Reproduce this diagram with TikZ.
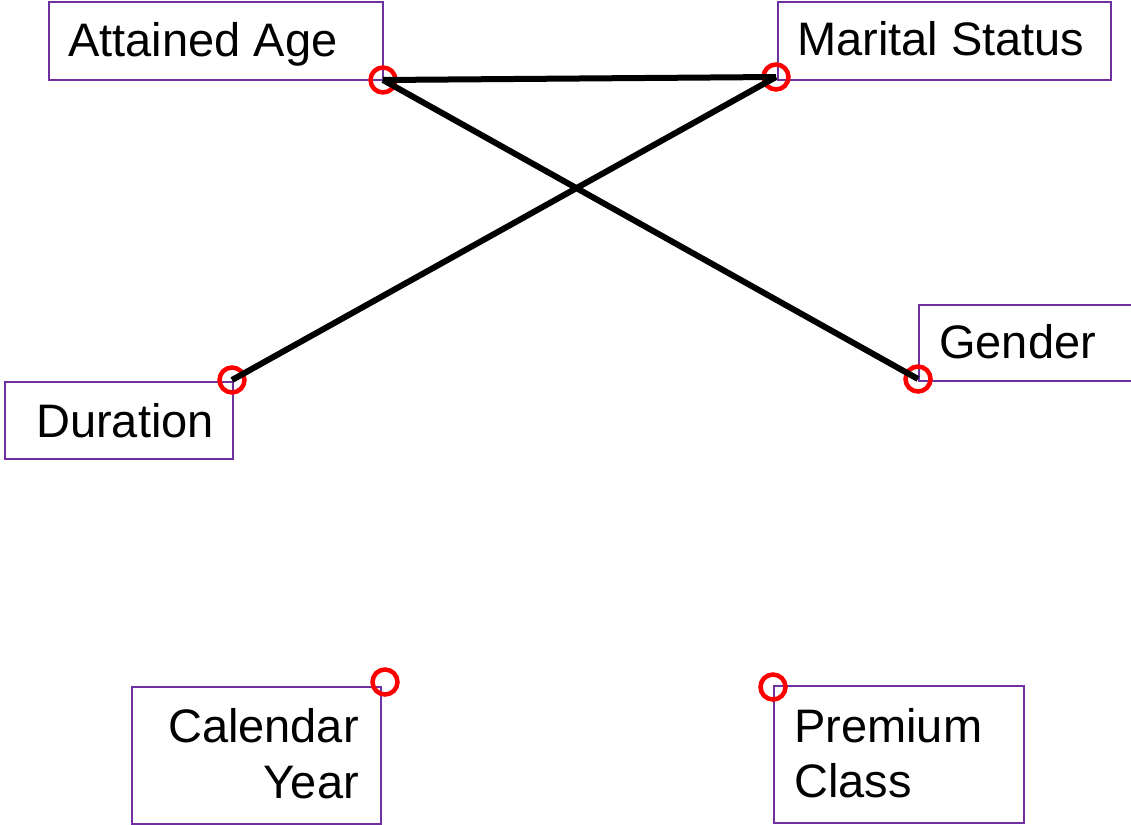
\documentclass[tikz,border=0pt]{standalone}
\usepackage{fontspec}
\setmainfont{Liberation Sans}
\begin{document}
\begin{tikzpicture}[x=1pt,y=-1pt,
  varbox/.style={draw=boxpurple,line width=2pt,rectangle,inner sep=0pt,anchor=north west},
  varlabel/.style={inner sep=0pt,font=\fontsize{47}{56}\selectfont},
  pin/.style={circle,draw=red,line width=4.5pt,minimum size=25pt,inner sep=0pt},
  link/.style={line width=6pt}]
\definecolor{boxpurple}{HTML}{7030A0}
\useasboundingbox (0,0) rectangle (1131,824);

% variable boxes
\node[varbox,minimum width=334pt,minimum height=78pt] (age) at (48,1) {};
\node[varbox,minimum width=333pt,minimum height=78pt] (marital) at (777,1) {};
\node[varbox,minimum width=228pt,minimum height=77pt] (duration) at (4,381) {};
\node[varbox,minimum width=216pt,minimum height=76pt] (gender) at (918,304) {};
\node[varbox,minimum width=249pt,minimum height=137pt] (calendar) at (131,686) {};
\node[varbox,minimum width=250pt,minimum height=137pt] (premium) at (773,685) {};

% labels
\node[varlabel,anchor=base west] (agetxt) at (68,57) {Attained Age};
\node[varlabel,anchor=base west] (maritaltxt) at (797,56) {Marital Status};
\node[varlabel,anchor=base west] (durationtxt) at (36,437) {Duration};
\node[varlabel,anchor=base west] (gendertxt) at (939,358) {Gender};
\node[varlabel,anchor=base east] (caltxt) at (359,742) {Calendar};
\node[varlabel,anchor=base east] (yeartxt) at (359,798) {Year};
\node[varlabel,anchor=base west] (premtxt) at (794,742) {Premium};
\node[varlabel,anchor=base west] (classtxt) at (794,797) {Class};

% connection points
\node[pin] (agepin) at (383,80) {};
\node[pin] (maritalpin) at (776,77) {};
\node[pin] (durationpin) at (232,380) {};
\node[pin] (genderpin) at (918,379) {};
\node[pin] (calpin) at (385,682) {};
\node[pin] (prempin) at (773,687) {};

% links
\draw[link] (agepin.center) -- (maritalpin.center);
\draw[link] (agepin.center) -- (genderpin.center);
\draw[link] (maritalpin.center) -- (durationpin.center);
\end{tikzpicture}
\end{document}
